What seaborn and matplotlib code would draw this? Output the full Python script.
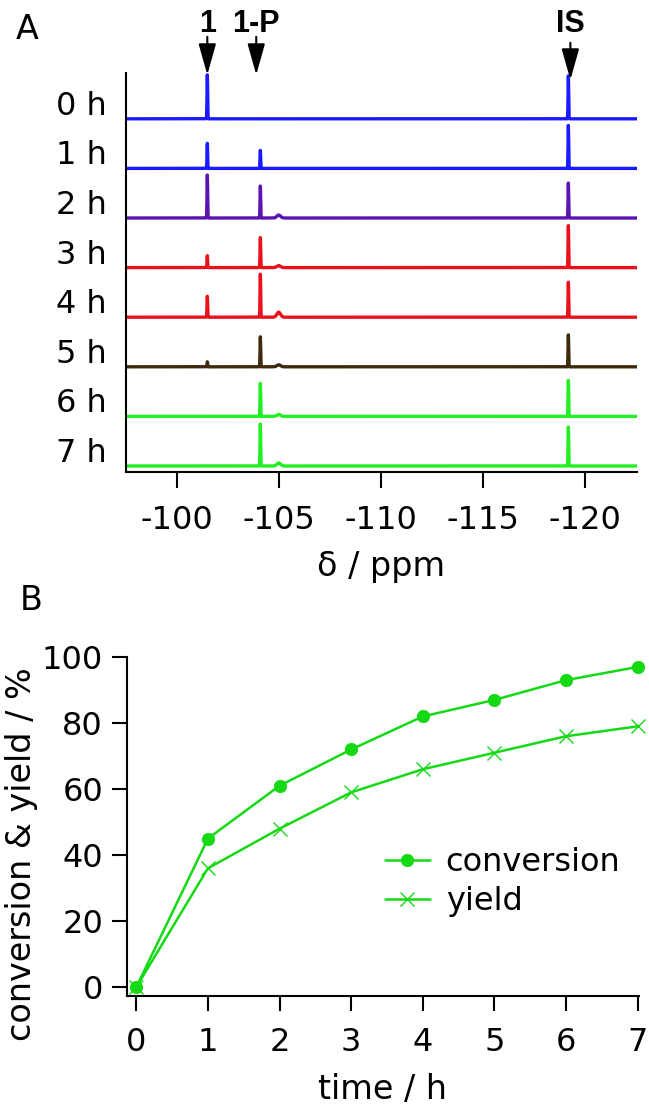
import numpy as np
import pandas as pd
import matplotlib
matplotlib.use("Agg")
import matplotlib.pyplot as plt
import matplotlib.transforms as mtransforms
import seaborn as sns

# panel A: stacked 19F NMR spectra
spectrum_labels = ["0 h", "1 h", "2 h", "3 h", "4 h", "5 h", "6 h", "7 h"]
spectrum_colors = ["#1a1aff", "#1a1aff", "#5a14b4", "#e8111c",
                   "#e8111c", "#3d2a0c", "#22f022", "#22f022"]
peak_ppm = [-101.5, -104.1, -105.0, -119.2]
peak_sigma = [0.015, 0.015, 0.09, 0.015]
int_start = [44, 25, 43, 12, 21, 5, 0, 0]     # 1
int_prod = [0, 18, 32, 30, 43, 30, 33, 42]     # 1-P
int_minor = [0, 0, 3, 2, 5, 2, 2, 3]           # small signal near -105
int_is = [43, 43, 35, 42, 35, 32, 36, 39]      # internal standard
marker_labels = ["1", "1-P", "IS"]
marker_ppm = [-101.5, -103.9, -119.3]

# panel B: kinetics
time_h = [0, 1, 2, 3, 4, 5, 6, 7]
conversion = [0, 45, 61, 72, 82, 87, 93, 97]
yield_pct = [0, 36, 48, 59, 66, 71, 76, 79]

green = "#14d914"
spacing = 49.6

sns.set_theme(style="ticks")
plt.rcParams["font.family"] = ["DejaVu Sans"]
plt.rcParams.update({
    "axes.linewidth": 1.5,
    "axes.edgecolor": "black",
    "axes.labelcolor": "black",
    "text.color": "black",
    "xtick.color": "black",
    "ytick.color": "black",
})

fig = plt.figure(figsize=(6.49, 11.08), dpi=100)
ax_a = fig.add_axes([0.1937, 0.574, 0.9810 - 0.1937, 0.9341 - 0.574])
ax_b = fig.add_axes([0.1952, 0.1011, 0.9846 - 0.1952, 0.4070 - 0.1011])

# build spectra
ppm = np.arange(-97.5, -122.56, -0.002)
rows = []
for i, lab in enumerate(spectrum_labels):
    amps = [int_start[i], int_prod[i], int_minor[i], int_is[i]]
    y = np.zeros_like(ppm)
    for x0, s, a in zip(peak_ppm, peak_sigma, amps):
        y += a * np.exp(-0.5 * ((ppm - x0) / s) ** 2)
    offset = (len(spectrum_labels) - 1 - i) * spacing
    rows.append(pd.DataFrame({"ppm": ppm, "signal": y + offset, "spectrum": lab}))
spec = pd.concat(rows, ignore_index=True)

sns.lineplot(data=spec, x="ppm", y="signal", hue="spectrum",
             palette=dict(zip(spectrum_labels, spectrum_colors)),
             estimator=None, sort=False, legend=False, lw=2.4, ax=ax_a)

ax_a.set_xlim(-97.5, -122.55)
ax_a.set_ylim(-6, 393)
ax_a.set_yticks([])
ax_a.set_ylabel("")
ax_a.set_xticks([-100, -105, -110, -115, -120])
ax_a.set_xticklabels(["-100", "-105", "-110", "-115", "-120"])
ax_a.tick_params(axis="x", direction="out", length=11.5, width=1.5,
                 pad=12, labelsize=23)
ax_a.set_xlabel("δ / ppm", fontsize=24, labelpad=10)
sns.despine(ax=ax_a)

trans = mtransforms.blended_transform_factory(ax_a.transAxes, ax_a.transData)
for i, lab in enumerate(spectrum_labels):
    offset = (len(spectrum_labels) - 1 - i) * spacing
    ax_a.text(-0.037, offset + 4, lab, transform=trans, ha="right",
              va="baseline", fontsize=23, clip_on=False)

top = (len(spectrum_labels) - 1) * spacing
for lab, x0 in zip(marker_labels, marker_ppm):
    tip = top + 44 if lab != "IS" else top + 39
    start = top + 82 if lab != "IS" else top + 76
    ax_a.annotate("", xy=(x0, tip), xytext=(x0, start),
                  arrowprops=dict(arrowstyle="-|>,head_length=1.6,head_width=0.45",
                                  color="black", lw=1.5, shrinkA=0, shrinkB=0),
                  annotation_clip=False)
    ax_a.text(x0, top + 87, lab, ha="center", va="baseline", fontsize=22,
              fontweight="bold", family=["Liberation Sans", "DejaVu Sans"],
              clip_on=False)

# panel B
sns.lineplot(x=time_h, y=conversion, color=green, lw=1.8, marker="o",
             markersize=9, markeredgecolor=green, markeredgewidth=0.5,
             label="conversion", clip_on=False, ax=ax_b)
sns.lineplot(x=time_h, y=yield_pct, color=green, lw=1.8, marker="x",
             markersize=10.5, markeredgecolor=green, markeredgewidth=1.0,
             label="yield", clip_on=False, ax=ax_b)

ax_b.set_xlim(-0.135, 7.02)
ax_b.set_ylim(-2.7, 100)
ax_b.set_xticks(time_h)
ax_b.set_yticks([0, 20, 40, 60, 80, 100])
ax_b.tick_params(axis="both", direction="out", length=11, width=1.5, labelsize=23)
ax_b.tick_params(axis="x", pad=11)
ax_b.tick_params(axis="y", pad=6)
ax_b.set_xlabel("time / h", fontsize=24, labelpad=11)
ax_b.set_ylabel("conversion & yield / %", fontsize=24)
ax_b.yaxis.set_label_coords(-0.173, 0.42)
sns.despine(ax=ax_b)
ax_b.legend(loc="center left", bbox_to_anchor=(0.504, 0.335), frameon=False,
            fontsize=23, handlelength=1.4, handletextpad=0.5,
            labelspacing=0.25, borderpad=0, borderaxespad=0)

fig.text(16 / 649, 1 - 39 / 1108, "A", fontsize=24, va="baseline")
fig.text(20 / 649, 1 - 610 / 1108, "B", fontsize=24, va="baseline")

fig.savefig("out.png", dpi=100)
